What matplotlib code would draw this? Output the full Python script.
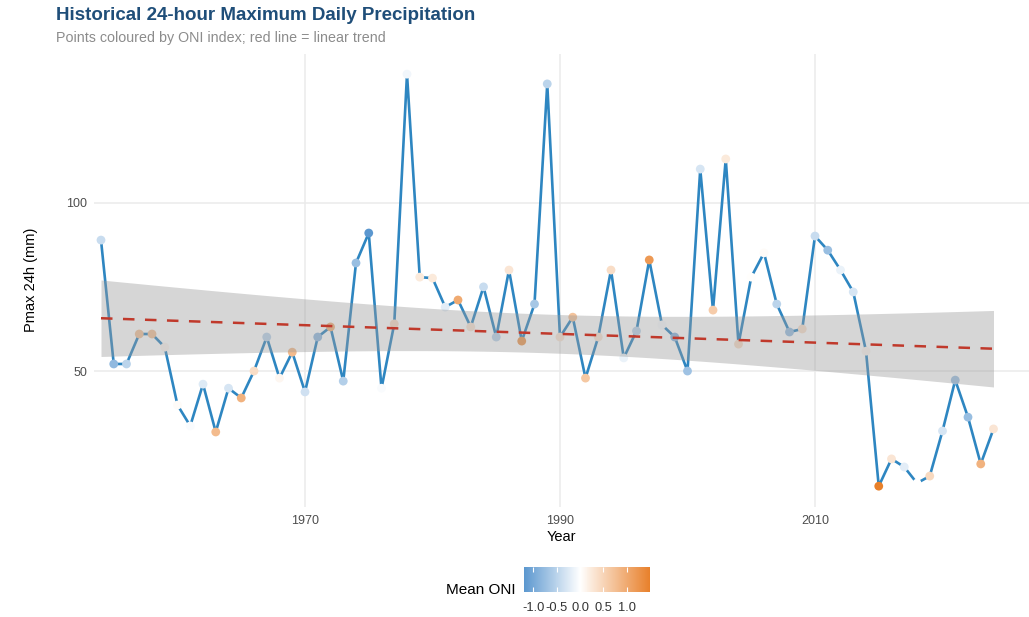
import numpy as np
import matplotlib
matplotlib.use("Agg")
import matplotlib.pyplot as plt
from matplotlib.colors import LinearSegmentedColormap, Normalize
from matplotlib.colorbar import ColorbarBase

plt.rcParams["font.family"] = ["Liberation Sans", "DejaVu Sans"]

# Annual series 1954-2024
years = np.arange(1954, 2025)
pmax_mm = [
    88.9, 52.1, 52.1, 61.0, 61.0, 57.1, 39.9, 33.7, 46.1, 31.9,   # 1954-1963
    44.9, 42.0, 50.0, 60.1, 47.9, 55.6, 43.8, 60.1, 63.1, 47.0,   # 1964-1973
    82.1, 91.0, 44.9, 64.0, 138.2, 77.9, 77.6, 69.0, 71.1, 63.1,  # 1974-1983
    75.0, 60.1, 80.0, 58.9, 69.9, 135.3, 60.1, 66.0, 47.9, 60.1,  # 1984-1993
    80.0, 53.9, 61.9, 83.0, 63.7, 60.1, 50.0, 110.0, 68.1, 113.0, # 1994-2003
    58.0, 77.9, 85.1, 69.9, 61.6, 62.5, 90.1, 85.9, 80.0, 73.5,   # 2004-2013
    55.9, 15.8, 23.9, 21.5, 16.7, 18.8, 32.2, 47.3, 36.3, 22.4,   # 2014-2023
    32.8,                                                          # 2024
]
mean_oni = [
    -0.40, -0.80, -0.50, 0.70, 0.70, 0.10, 0.05, -0.05, -0.25, 0.80,
    -0.30, 0.90, 0.40, -0.50, 0.10, 0.80, -0.35, -0.80, 0.90, -0.55,
    -0.75, -1.20, -0.05, 0.40, -0.10, 0.25, 0.25, -0.20, 1.00, 0.30,
    -0.40, -0.50, 0.30, 1.20, -0.65, -0.50, 0.30, 0.70, 0.65, 0.30,
    0.40, -0.15, -0.50, 1.20, -0.05, -0.85, -0.70, -0.30, 0.60, 0.25,
    0.40, 0.02, 0.05, -0.50, -0.75, 0.35, -0.40, -0.75, -0.15, -0.30,
    0.10, 1.50, 0.30, -0.20, 0.00, 0.45, -0.30, -0.70, -0.75, 0.90,
    0.30,
]
oni_ticks = [-1.0, -0.5, 0.0, 0.5, 1.0]
y_ticks = [50, 100]
x_ticks = [1970, 1990, 2010]

x = years.astype(float)
y = np.asarray(pmax_mm, dtype=float)
c = np.asarray(mean_oni, dtype=float)

# Diverging palette: blue below zero, white at zero, orange above
vmin, vmax = c.min(), c.max()
zero_pos = (0 - vmin) / (vmax - vmin)
cmap = LinearSegmentedColormap.from_list(
    "oni", [(0.0, "#5b97cf"), (zero_pos, "#ffffff"), (1.0, "#e8802a")])
norm = Normalize(vmin, vmax)

# Linear trend with 95% confidence band
slope, intercept = np.polyfit(x, y, 1)
fit = intercept + slope * x
n = len(x)
resid_sd = np.sqrt(np.sum((y - fit) ** 2) / (n - 2))
sxx = np.sum((x - x.mean()) ** 2)
se = resid_sd * np.sqrt(1 / n + (x - x.mean()) ** 2 / sxx)
t_crit = 1.995
lo, hi = fit - t_crit * se, fit + t_crit * se

W, H = 1029, 617
fig = plt.figure(figsize=(W / 100, H / 100), dpi=100)
ax = fig.add_axes([94 / W, 1 - 506.7 / H, 1 - 94 / W, (506.7 - 53.6) / H])

ax.plot(x, y, color="#2e86c1", lw=1.9, zorder=2, solid_joinstyle="round")
ax.scatter(x, y, c=c, cmap=cmap, norm=norm, s=40, linewidths=0, zorder=3)
ax.fill_between(x, lo, hi, color="#999999", alpha=0.4, lw=0, zorder=4)
ax.plot(x, fit, color="#c0392b", lw=1.8, ls=(0, (4.6, 4.2)), zorder=5)

ax.set_xlim(1970 - (305 - 94) / 12.75, 1970 + (W - 305) / 12.75)
ax.set_ylim(9.7, 144.3)
ax.set_xticks(x_ticks)
ax.set_yticks(y_ticks)
ax.grid(True, color="#ebebeb", lw=1.1)
ax.set_axisbelow(True)
for s in ax.spines.values():
    s.set_visible(False)
ax.tick_params(length=0, labelsize=9, labelcolor="#4d4d4d")
ax.tick_params(axis="x", pad=6)
ax.tick_params(axis="y", pad=5)
ax.set_xlabel("Year", fontsize=10.5, labelpad=2)
ax.set_ylabel("Pmax 24h (mm)", fontsize=10.5, labelpad=20)

fig.text(56 / W, 1 - 16 / H, "Historical 24-hour Maximum Daily Precipitation",
         fontsize=13.5, fontweight="bold", color="#1f4e79", va="center", ha="left")
fig.text(56 / W, 1 - 38 / H, "Points coloured by ONI index; red line = linear trend",
         fontsize=10.3, color="#8c8c8c", va="center", ha="left")

# Colour bar legend
cax = fig.add_axes([524 / W, 1 - 592 / H, 126 / W, 25 / H])
cb = ColorbarBase(cax, cmap=cmap, norm=norm, orientation="horizontal", ticks=oni_ticks)
cb.outline.set_visible(False)
cb.set_ticklabels([f"{t:.1f}" for t in oni_ticks])
cax.tick_params(length=0, labelsize=9.3, labelcolor="#333333", pad=7)
cax.vlines(oni_ticks, 0, 0.2, color="white", lw=0.8)
cax.vlines(oni_ticks, 0.8, 1.0, color="white", lw=0.8)
fig.text(516 / W, 1 - 590 / H, "Mean ONI", fontsize=11, ha="right", va="center")

fig.savefig("out.png", dpi=100)
